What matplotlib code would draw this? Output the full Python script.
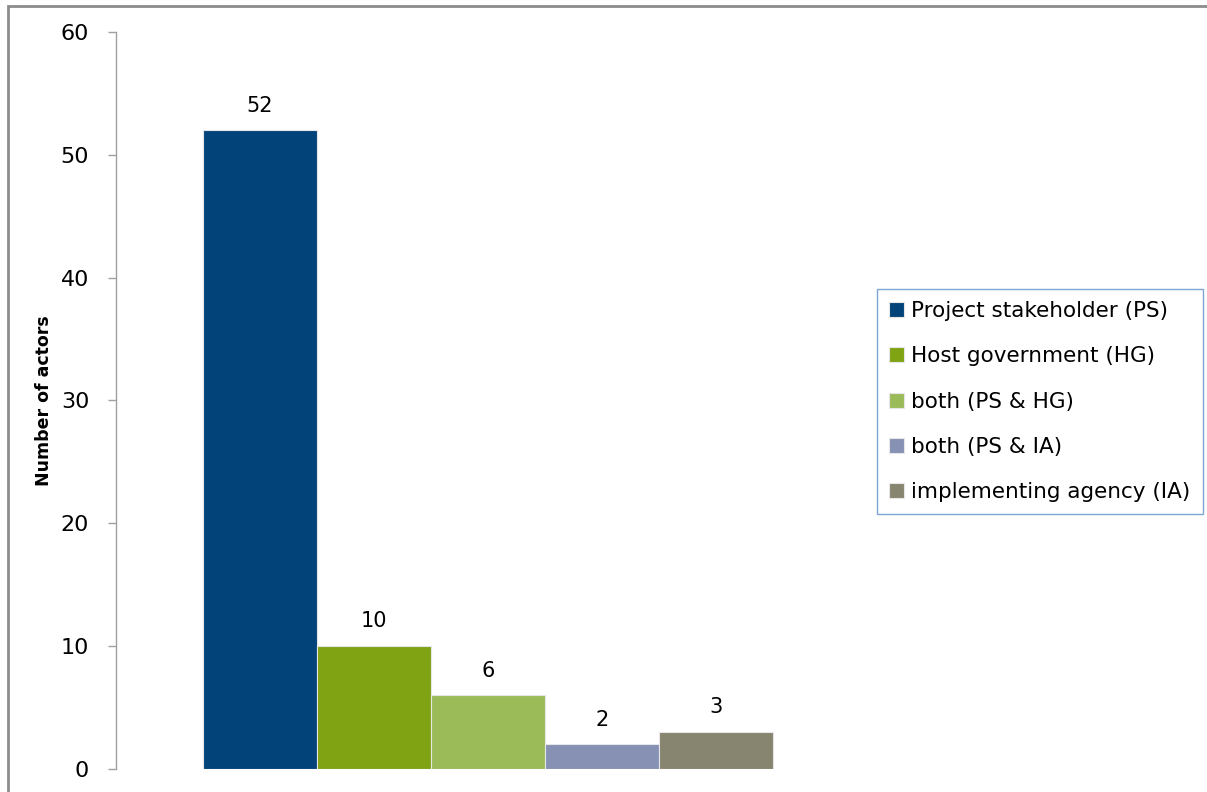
import matplotlib
matplotlib.use("Agg")
import matplotlib.pyplot as plt
from matplotlib.patches import Rectangle

categories = ["Project stakeholder (PS)", "Host government (HG)", "both (PS & HG)",
              "both (PS & IA)", "implementing agency (IA)"]
values = [52, 10, 6, 2, 3]
colors = ["#02437A", "#7FA313", "#9BBB59", "#8691B4", "#878470"]
yticks = [0, 10, 20, 30, 40, 50, 60]

W, H = 1207, 792
fig = plt.figure(figsize=(W / 100, H / 100), dpi=100)
plt.rcParams['font.family'] = ['DejaVu Sans']

# outer frame
fig.patches.append(Rectangle((8 / W, -0.05), 1.1, 1 - 6 / H + 0.05, transform=fig.transFigure,
                             fill=False, edgecolor="#8c8c8c", linewidth=2.0))

ax = fig.add_axes([116 / W, 1 - 769 / H, (860 - 116) / W, (769 - 32) / H])
for i, (v, c, lab) in enumerate(zip(values, colors, categories)):
    ax.bar(i, v, width=1.0, color=c, edgecolor="#e6e6e6", linewidth=0.8, label=lab)
    ax.text(i, v + 1.2, str(v), ha="center", va="bottom", fontsize=15, color="black")

ax.set_xlim(-0.5 - (203 - 116) / 114, 4.5 + (860 - 773) / 114)
ax.set_ylim(0, 60)
ax.set_yticks(yticks)
ax.set_xticks([])
for s in ["top", "right", "bottom"]:
    ax.spines[s].set_visible(False)
ax.spines["left"].set_color("#a0a0a0")
ax.spines["left"].set_linewidth(1.0)
ax.tick_params(axis="y", direction="out", length=5.8, width=1.0, color="#a0a0a0",
               labelsize=16, pad=13.5)
fig.text(44 / W, 1 - 401 / H, "Number of actors", rotation=90, ha="center", va="center",
         fontsize=12.5, fontweight="bold")

leg = fig.legend(loc="upper left", bbox_to_anchor=(877 / W, 1 - 289 / H),
                 fontsize=15.5, frameon=True, fancybox=False, handlelength=0.7,
                 handleheight=0.7, handletextpad=0.35, labelspacing=1.18,
                 borderpad=0.55, borderaxespad=0)
leg.get_frame().set_edgecolor("#5B8FC7")
leg.get_frame().set_linewidth(1.0)

fig.savefig("out.png", dpi=100)
